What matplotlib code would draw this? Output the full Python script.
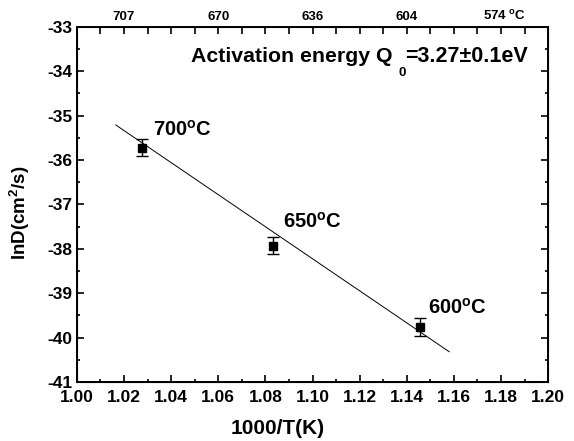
import numpy as np
import matplotlib
matplotlib.use("Agg")
import matplotlib.pyplot as plt
from matplotlib.ticker import MultipleLocator, FixedLocator, FixedFormatter, FormatStrFormatter

plt.rcParams['font.family'] = ['Liberation Sans', 'DejaVu Sans']
plt.rcParams['font.weight'] = 'bold'
plt.rcParams['mathtext.fontset'] = 'custom'
plt.rcParams['mathtext.rm'] = 'Liberation Sans:bold'
plt.rcParams['mathtext.bf'] = 'Liberation Sans:bold'

# data
inv_T = [1.0277, 1.0834, 1.1455]
lnD = [-35.72, -37.93, -39.76]
lnD_err = [0.19, 0.19, 0.20]
pt_labels = ["700$^{\\mathrm{o}}$C", "650$^{\\mathrm{o}}$C", "600$^{\\mathrm{o}}$C"]
fit_x = [1.0165, 1.158]
fit_y = [-35.21, -40.32]
top_ticks = [1.02, 1.06, 1.10, 1.14, 1.18]
top_labels = ["707", "670", "636", "604", ""]
last_top = "574 $^{\\mathrm{o}}$C"

fig = plt.figure(figsize=(5.74, 4.41), dpi=100)
ax = fig.add_axes([0.134, 0.134, 0.821, 0.805])

ax.plot(fit_x, fit_y, c="k", lw=0.7)
ax.errorbar(inv_T, lnD, yerr=lnD_err, fmt="s", c="k", ms=5.5, capsize=4.5, elinewidth=1, capthick=1)

label_pos = [(1.0323, -35.46), (1.0875, -37.53), (1.149, -39.47)]
for (lx, ly), t in zip(label_pos, pt_labels):
    ax.text(lx, ly, t, fontsize=14.5, fontweight="bold")

ax.text(1.0485, -33.78, "Activation energy Q", fontsize=15.3, fontweight="bold")
ax.text(1.1393, -33.78, "=3.27\u00b10.1eV", fontsize=15.5, fontweight="bold")
ax.text(1.138, -34.10, "0", fontsize=9.5, fontweight="bold", ha="center")

ax.set_xlim(1.00, 1.20)
ax.set_ylim(-41, -33)
ax.xaxis.set_major_locator(MultipleLocator(0.02))
ax.xaxis.set_minor_locator(MultipleLocator(0.01))
ax.yaxis.set_major_locator(MultipleLocator(1))
ax.yaxis.set_minor_locator(MultipleLocator(0.5))
ax.xaxis.set_major_formatter(FormatStrFormatter("%.2f"))
ax.yaxis.set_major_formatter(FormatStrFormatter("%d"))
ax.tick_params(which="both", direction="in", right=True, width=1.2, labelsize=12.5)
ax.tick_params(which="major", length=5)
ax.tick_params(which="minor", length=2.5)
ax.tick_params(axis="x", pad=6)
for s in ax.spines.values():
    s.set_linewidth(1.4)

top = ax.twiny()
top.set_xlim(ax.get_xlim())
top.xaxis.set_major_locator(FixedLocator(top_ticks))
top.xaxis.set_major_formatter(FixedFormatter(top_labels))
top.xaxis.set_minor_locator(FixedLocator(np.arange(1.01, 1.2, 0.01)))
top.tick_params(which="both", direction="in", width=1.2, labelsize=9.5, pad=3)
top.tick_params(which="major", length=5)
top.tick_params(which="minor", length=5)
ax.text(1.1724, -32.84, last_top, fontsize=9.5, fontweight="bold", clip_on=False)

ax.set_xlabel("1000/T(K)", fontsize=15, fontweight="bold")
ax.set_ylabel("lnD(cm$^{2}$/s)", fontsize=13.5, fontweight="bold")
ax.xaxis.set_label_coords(0.427, -0.104)
ax.yaxis.set_label_coords(-0.0955, 0.476)

fig.savefig("out.png", dpi=100)
